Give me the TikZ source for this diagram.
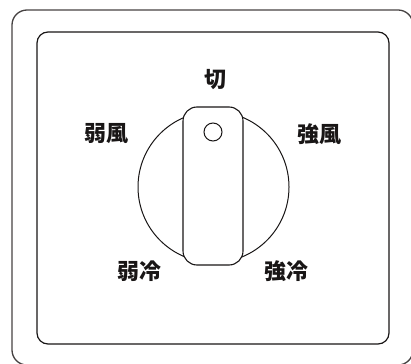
\documentclass[tikz,border=0pt]{standalone}
\usepackage{fontspec}
\usepackage{tikz}
\newfontfamily\cjk{Noto Sans CJK JP}
\definecolor{kn-frame}{RGB}{70,66,66}
\definecolor{kn-line}{RGB}{25,22,22}
\tikzset{
  kn@outer/.style={
    draw=kn-frame, line width=1.3pt, rounded corners=15pt,
    minimum width=401pt, minimum height=355pt, inner sep=0pt
  },
  kn@inner/.style={
    draw=kn-line, line width=1.2pt, rounded corners=11pt,
    minimum width=352pt, minimum height=312pt, inner sep=0pt
  },
  kn@dial/.style={
    circle, draw=kn-line, line width=1pt, minimum size=151pt, inner sep=0pt
  },
  kn@grip/.style={
    draw=kn-line, fill=white, line width=1.1pt, rounded corners=14pt,
    minimum width=60pt, minimum height=158pt, inner sep=0pt
  },
  kn@hole/.style={
    circle, draw=kn-line, line width=1pt, minimum size=18pt, inner sep=0pt
  },
  kn@lbl/.style={font=\cjk\bfseries\fontsize{22}{22}\selectfont, text=kn-line, inner sep=0pt},
}
\begin{document}
\begin{tikzpicture}[x=1pt, y=-1pt]
  \useasboundingbox (0,0) rectangle (411,363);
  \node[kn@outer] (outer) at (212.5,187.5) {};
  \node[kn@inner] (panel) at (213,188) {};
  \node[kn@dial]  (dial)  at (213.5,187) {};
  \node[kn@grip]  (grip)  at (213,186) {};
  \node[kn@hole]  (hole)  at (213,132) {};
  \node[kn@lbl] (off)      at (215,80)  {切};
  \node[kn@lbl] (lowfan)   at (106,134) {弱風};
  \node[kn@lbl] (highfan)  at (319,134) {強風};
  \node[kn@lbl] (lowcool)  at (139,271) {弱冷};
  \node[kn@lbl] (highcool) at (286,271) {強冷};
\end{tikzpicture}
\end{document}
